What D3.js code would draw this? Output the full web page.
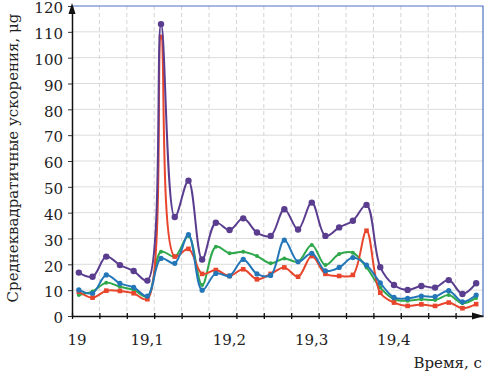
<!DOCTYPE html>
<html>
<head>
<meta charset="utf-8">
<script src="https://cdn.jsdelivr.net/npm/d3@7"></script>
<style>
    body { margin: 0; background: #fff; }
</style>
</head>
<body>
<div id="chart"></div>
<script>
// Time of each sample, seconds.
const times = [19.0083, 19.025, 19.0417, 19.0583, 19.075, 19.0917, 19.1083, 19.125, 19.1417, 19.1583,
               19.175, 19.1917, 19.2083, 19.225, 19.2417, 19.2583, 19.275, 19.2917, 19.3083, 19.325,
               19.3417, 19.3583, 19.375, 19.3917, 19.4083, 19.425, 19.4417, 19.4583, 19.475, 19.4917];

// Series values, μg.
const purpleValues = [16.8, 15.2, 23.0, 19.7, 17.4, 13.7, 113, 38.3, 52.4, 21.9,
                      36.1, 33.3, 37.8, 32.3, 31.0, 41.3, 33.5, 43.9, 31.0, 34.3,
                      36.9, 43.0, 18.9, 12.0, 10.1, 11.6, 11.0, 13.9, 8.5, 12.7];
const redValues = [9.4, 7.1, 9.8, 9.7, 8.8, 6.5, 108, 23.0, 26.0, 16.3,
                   17.8, 15.5, 18.1, 14.2, 16.3, 18.8, 15.2, 23.2, 16.3, 15.5,
                   15.9, 33.0, 9.0, 5.2, 3.9, 4.5, 3.9, 5.2, 3.0, 4.6];
const blueValues = [10.1, 8.8, 15.9, 12.6, 11.1, 7.7, 22.3, 20.4, 31.5, 10.0,
                    16.5, 15.5, 21.9, 16.3, 15.7, 29.4, 21.0, 24.3, 17.5, 18.8,
                    22.6, 19.7, 12.8, 7.2, 6.8, 7.7, 7.5, 9.8, 5.5, 8.1];
const greenValues = [8.1, 9.5, 12.9, 11.3, 10.1, 7.5, 24.9, 23.0, 31.0, 12.0,
                     26.8, 24.3, 24.9, 23.2, 20.4, 22.3, 21.0, 27.5, 19.7, 24.0,
                     24.5, 18.8, 11.0, 6.5, 5.9, 6.5, 6.2, 8.1, 4.9, 7.0];

// Axis ticks.
const xLabelTicks = [19, 19.1, 19.2, 19.3, 19.4];
const xLabels = ["19", "19,1", "19,2", "19,3", "19,4"];
const yTicks = [0, 10, 20, 30, 40, 50, 60, 70, 80, 90, 100, 110, 120];

const fontFamily = "DejaVu Serif";
const totalWidth = 490;
const totalHeight = 374;
let margin = { top: 6, right: 7, bottom: 58, left: 72 };
let width = totalWidth - margin.left - margin.right;
let height = totalHeight - margin.top - margin.bottom;

let svg = d3.select("#chart")
    .append("svg")
    .attr("width", totalWidth)
    .attr("height", totalHeight)
    .append("g")
    .attr("transform", `translate(${margin.left}, ${margin.top})`);

let x = d3.scaleLinear().domain([19, 19.5]).range([0, width]);
let y = d3.scaleLinear().domain([0, 120]).range([height, 0]);

// Minor x ticks every 1/30 s.
let xMinor = d3.range(1, 15).map(function(i) { return 19 + i / 30; });

// Horizontal grid.
svg.append("g")
    .selectAll("line")
    .data(yTicks.filter(function(d) { return d > 0 && d < 120; }))
    .enter().append("line")
    .attr("x1", 0).attr("x2", width)
    .attr("y1", function(d) { return y(d); })
    .attr("y2", function(d) { return y(d); })
    .attr("stroke", "#dcdcdc")
    .attr("stroke-width", 1);

// Vertical dashed grid.
svg.append("g")
    .selectAll("line")
    .data(xMinor)
    .enter().append("line")
    .attr("x1", function(d) { return x(d); })
    .attr("x2", function(d) { return x(d); })
    .attr("y1", 0).attr("y2", height)
    .attr("stroke", "#d4d4d4")
    .attr("stroke-dasharray", "4,3")
    .attr("stroke-width", 1);

// Blue frame on top and right.
svg.append("path")
    .attr("d", `M0,${y(120)}H${width}V${height}`)
    .attr("fill", "none")
    .attr("stroke", "#4f72c4")
    .attr("stroke-width", 1.2);

// Lines and markers.
let series = [
    { values: greenValues, color: "#2fa84b", marker: "dot", r: 2 },
    { values: redValues, color: "#e8452c", marker: "square", r: 2.3 },
    { values: blueValues, color: "#2377b8", marker: "dot", r: 2.6 },
    { values: purpleValues, color: "#5a3d8f", marker: "dot", r: 3.2 }
];

let line = d3.line()
    .x(function(d, i) { return x(times[i]); })
    .y(function(d) { return y(d); })
    .curve(d3.curveCatmullRom.alpha(0.5));

series.forEach(function(s) {
    svg.append("path")
        .datum(s.values)
        .attr("d", line)
        .attr("fill", "none")
        .attr("stroke", s.color)
        .attr("stroke-width", 2);

    if (s.marker === "square") {
        svg.append("g")
            .selectAll("rect")
            .data(s.values)
            .enter().append("rect")
            .attr("x", function(d, i) { return x(times[i]) - s.r; })
            .attr("y", function(d) { return y(d) - s.r; })
            .attr("width", s.r * 2)
            .attr("height", s.r * 2)
            .attr("fill", s.color);
    } else {
        svg.append("g")
            .selectAll("circle")
            .data(s.values)
            .enter().append("circle")
            .attr("cx", function(d, i) { return x(times[i]); })
            .attr("cy", function(d) { return y(d); })
            .attr("r", s.r)
            .attr("fill", s.color);
    }
});

// Y axis.
let yAxis = svg.append("g")
    .call(d3.axisLeft(y).tickValues(yTicks).tickSize(4).tickSizeOuter(0));
yAxis.attr("font-family", fontFamily);
yAxis.select(".domain").attr("stroke", "#111").attr("stroke-width", 1.5);
yAxis.selectAll(".tick line").attr("stroke", "#333");
yAxis.selectAll("text")
    .attr("x", -9)
    .attr("dy", "0.45em")
    .attr("fill", "#222")
    .style("font-family", fontFamily)
    .style("font-size", "15px");

// X axis with crossing ticks.
let xAxis = svg.append("g")
    .attr("transform", `translate(0, ${height})`)
    .call(d3.axisBottom(x).tickValues([19].concat(xMinor)).tickSize(3).tickFormat("").tickSizeOuter(0));
xAxis.select(".domain").attr("stroke", "#111").attr("stroke-width", 1.5);
xAxis.selectAll(".tick line").attr("y1", -3).attr("stroke", "#111").attr("stroke-width", 1.3);

// X tick labels.
svg.append("g")
    .selectAll("text")
    .data(xLabelTicks)
    .enter().append("text")
    .attr("x", function(d, i) { return x(d) + (i === 0 ? 5 : -7); })
    .attr("y", height + 29)
    .attr("text-anchor", "middle")
    .attr("fill", "#222")
    .style("font-family", fontFamily)
    .style("font-size", "15px")
    .text(function(d, i) { return xLabels[i]; });

// Arrow heads.
svg.append("path")
    .attr("d", `M0,${y(120) - 3}L-3.5,${y(120) + 8}L3.5,${y(120) + 8}Z`)
    .attr("fill", "#111");
svg.append("path")
    .attr("d", `M${width + 1},${height}L${width - 11},${height - 3.5}L${width - 11},${height + 3.5}Z`)
    .attr("fill", "#111");

// X axis title.
svg.append("text")
    .attr("x", width - 1)
    .attr("y", height + 52)
    .attr("text-anchor", "end")
    .attr("fill", "#222")
    .style("font-family", fontFamily)
    .style("font-size", "15px")
    .text("Время, с");

// Y axis title.
svg.append("text")
    .attr("transform", "rotate(-90)")
    .attr("x", -height / 2 + 3)
    .attr("y", -margin.left + 18)
    .attr("text-anchor", "middle")
    .attr("fill", "#222")
    .style("font-family", fontFamily)
    .style("font-size", "15px")
    .text("Среднеквадратичные ускорения, μg");
</script>
</body>
</html>
